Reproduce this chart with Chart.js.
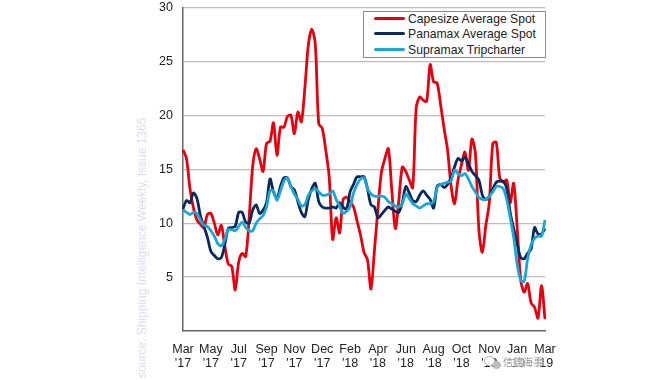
<!DOCTYPE html>
<html>
<head>
<meta charset="utf-8">
<style>
    html, body { margin: 0; padding: 0; background: #fff; }
    #wrap { position: relative; width: 670px; height: 380px; overflow: hidden; font-family: "Liberation Sans", Arial, sans-serif; }
    #legend { position: absolute; left: 363px; top: 11px; width: 181px; height: 45px; border: 1px solid #8c8c8c; background: #fff; box-sizing: content-box; }
    .row { position: absolute; left: 10px; height: 15px; line-height: 15px; font-size: 12.2px; color: #222; white-space: nowrap; }
    .row i { display: inline-block; width: 31px; height: 3px; border-radius: 2px; margin-right: 3px; vertical-align: 3px; }
    #source { position: absolute; left: 135px; top: 115px; height: 263px; writing-mode: vertical-rl; transform: rotate(180deg); font-size: 12px; line-height: 14px; color: #dddcf0; white-space: nowrap; }
    #mark { position: absolute; left: 503px; top: 355px; font-family: "Noto Sans CJK SC", sans-serif; font-size: 10px; line-height: 14px; color: rgba(130,130,130,0.85); text-shadow: 0 0 2px #fff, 0 0 2px #fff, 0 0 3px #fff; }
    #icon { position: absolute; left: 484px; top: 356px; width: 9px; height: 8px; border: 1px solid #bbb; border-radius: 50%; background: #fff; box-shadow: 7px 4px 0 -1px #bbb; }
</style>
</head>
<body>
<div id="wrap">
    <canvas id="rateChart" width="670" height="380"></canvas>
    <div id="source">source. Shipping Intelligence Weekly, Issue 1365</div>
    <div id="legend"></div>
    <div id="icon"></div>
    <div id="mark">信德海事</div>
</div>
<script src="https://cdn.jsdelivr.net/npm/chart.js@4"></script>
<script>
// Tick labels, one every 8 weeks
const tickMonths = ["Mar '17", "May '17", "Jul '17", "Sep '17", "Nov '17", "Dec '17", "Feb '18", "Apr '18", "Jun '18", "Aug '18", "Oct '18", "Nov '18", "Jan '19", "Mar '19"];
const yTicks = [5, 10, 15, 20, 25, 30];

// Weekly values
const capesize = [16.8, 16.0, 13.2, 11.4, 10.3, 9.9, 9.6, 10.8, 10.9, 10.0, 8.9, 9.8, 7.9, 6.2, 6.0, 3.8, 6.4, 7.2, 6.9, 10.5, 15.2,
    16.9, 16.0, 14.8, 17.4, 17.6, 19.3, 16.3, 18.9, 18.9, 19.9, 20.0, 18.3, 20.3, 19.4, 22.5, 26.5, 28.0, 26.6, 19.2, 18.8,
    16.8, 14.3, 8.5, 10.5, 9.1, 12.2, 12.4, 12.0, 11.5, 10.2, 8.9, 7.3, 6.6, 3.9, 7.5, 11.3, 14.7, 16.0, 16.9, 13.0,
    9.5, 12.1, 15.2, 14.8, 14.0, 13.3, 20.7, 21.7, 21.4, 21.3, 24.7, 23.1, 23.0, 21.0, 18.8, 16.8, 13.5, 11.8, 14.0, 15.4,
    16.6, 14.9, 17.8, 16.5, 9.4, 7.3, 9.8, 11.9, 17.4, 17.5, 14.2, 13.8, 14.0, 11.9, 13.7, 9.6, 4.8, 3.6, 4.4, 2.6,
    2.2, 1.2, 4.2, 1.1];
const panamax = [11.3, 12.1, 11.9, 12.8, 12.3, 10.7, 9.7, 8.7, 7.4, 7.0, 6.7, 6.8, 8.0, 9.5, 9.6, 9.7, 11.0, 11.0, 10.1, 10.0, 11.2,
    11.7, 10.9, 11.2, 11.9, 14.1, 12.9, 12.3, 13.4, 14.2, 14.2, 13.4, 13.1, 12.0, 11.0, 10.6, 12.2, 13.2, 13.7, 12.0, 11.5,
    11.4, 11.4, 11.5, 11.4, 11.9, 11.5, 11.3, 12.9, 13.6, 14.3, 14.3, 14.3, 13.2, 11.7, 11.5, 10.5, 10.8, 11.2, 11.5, 11.3,
    11.1, 11.0, 11.9, 13.4, 12.8, 12.1, 12.0, 12.6, 13.0, 12.6, 12.2, 11.4, 13.4, 13.6, 13.3, 13.6, 14.2, 15.2, 16.0, 15.8,
    16.1, 15.5, 14.8, 14.4, 14.0, 12.6, 12.2, 12.5, 13.2, 13.8, 13.9, 13.9, 13.2, 11.0, 9.5, 8.1, 6.8, 6.7, 7.2, 7.6,
    9.6, 9.0, 9.0, 9.5];
const supramax = [11.2, 11.0, 10.8, 11.0, 10.9, 10.3, 9.8, 9.7, 9.3, 8.8, 8.1, 7.9, 8.5, 9.4, 9.4, 9.3, 9.7, 10.1, 9.6, 9.3, 9.3,
    10.0, 10.4, 10.7, 11.5, 13.0, 13.0, 12.1, 13.0, 13.9, 14.2, 13.4, 12.7, 12.2, 11.6, 11.7, 12.6, 13.0, 13.2, 12.9, 12.6,
    12.6, 12.7, 13.0, 12.2, 11.6, 10.9, 11.1, 11.5, 12.8, 13.6, 14.1, 14.2, 13.2, 12.7, 12.5, 12.5, 12.5, 12.4, 12.0, 11.8,
    11.6, 11.5, 11.8, 12.7, 12.3, 11.8, 11.6, 11.4, 11.6, 11.8, 11.8, 12.0, 13.3, 13.6, 13.7, 13.8, 13.9, 14.9, 14.6, 14.4,
    14.6, 14.1, 13.4, 12.9, 12.4, 12.2, 12.2, 12.5, 12.9, 13.4, 13.4, 13.2, 12.2, 10.5, 8.7, 6.2, 4.7, 4.6, 6.7, 8.0,
    8.6, 8.8, 8.8, 10.3];

const seriesNames = ["Capesize Average Spot", "Panamax Average Spot", "Supramax Tripcharter"];
const seriesColors = ["#e8000f", "#0b2a5c", "#1ba6d4"];

// One label slot per week, only every 8th one gets text
const weekLabels = capesize.map((_, i) => (i % 8 === 0 ? tickMonths[i / 8].split(" ") : ""));

const datasets = [capesize, panamax, supramax].map((values, index) => ({
    label: seriesNames[index],
    data: values,
    borderColor: seriesColors[index],
    borderWidth: 2.8,
    pointRadius: 0,
    tension: 0.3,
    fill: false,
    order: 3 - index
}));

const textColor = "#222";
const labelFont = { family: "'Liberation Sans', Arial, sans-serif", size: 12.5, lineHeight: 1.12 };

new Chart(document.getElementById("rateChart").getContext("2d"), {
    type: "line",
    data: { labels: weekLabels, datasets: datasets },
    options: {
        responsive: false,
        animation: false,
        layout: { autoPadding: false, padding: { left: 130, top: 7.5, right: 125, bottom: 0 } },
        plugins: { legend: { display: false }, tooltip: { enabled: false } },
        scales: {
            x: {
                offset: false,
                afterFit: (scale) => { scale.height = 49; scale.paddingLeft = 0; scale.paddingRight = 0; },
                grid: { display: false },
                border: { color: "#666", width: 1.5 },
                ticks: {
                    autoSkip: false,
                    maxRotation: 0,
                    minRotation: 0,
                    padding: 4,
                    color: textColor,
                    font: labelFont
                }
            },
            y: {
                min: 0,
                max: 30,
                afterFit: (scale) => { scale.width = 53; scale.paddingTop = 0; scale.paddingBottom = 0; },
                afterBuildTicks: (scale) => { scale.ticks = yTicks.map((v) => ({ value: v })); },
                grid: { color: "#bdbdbd", lineWidth: 1.2, drawTicks: false },
                border: { color: "#666", width: 1.5 },
                ticks: { padding: 10, color: textColor, font: labelFont }
            }
        }
    }
});

// Boxed legend on top of the plot
const legendBox = document.getElementById("legend");
seriesNames.forEach((name, index) => {
    const row = document.createElement("div");
    row.className = "row";
    row.style.top = (-0.5 + index * 15.5) + "px";
    row.innerHTML = `<i style="background:${seriesColors[index]}"></i>${name}`;
    legendBox.appendChild(row);
});
</script>
</body>
</html>
